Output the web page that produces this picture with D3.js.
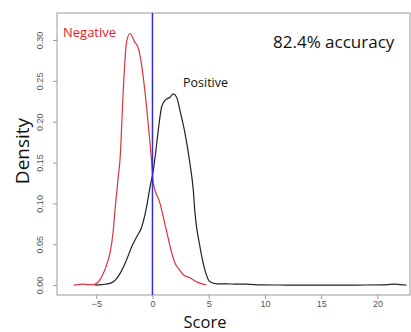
<!DOCTYPE html>
<html>
<head>
<meta charset="utf-8">
<script src="https://cdn.jsdelivr.net/npm/d3@7"></script>
<style>
  body { margin: 0; background: #fff; }
  svg { display: block; }
</style>
</head>
<body>
<div class="chart"></div>
<script>
// density curves
const negX = [-7.0, -6.6, -6.15, -5.7, -5.26, -4.8, -4.37, -4.0, -3.78, -3.5, -3.33, -3.04, -2.89, -2.6, -2.44, -2.3, -2.0, -1.6, -1.26, -0.96, -0.67, -0.37, -0.07, 0.07, 0.67, 1.1, 1.4, 1.7, 2.0, 2.44, 2.8, 3.33, 3.9, 4.4, 4.8];
const negY = [0.0, 0.0005, 0.0012, 0.0005, 0.0005, 0.004, 0.014, 0.028, 0.039, 0.065, 0.092, 0.133, 0.153, 0.237, 0.277, 0.298, 0.308, 0.298, 0.29, 0.269, 0.237, 0.196, 0.15, 0.125, 0.1, 0.075, 0.057, 0.04, 0.027, 0.018, 0.012, 0.009, 0.004, 0.0015, 0.0];
const posX = [-5.1, -4.5, -3.78, -3.3, -2.89, -2.3, -1.85, -1.4, -0.96, -0.52, -0.22, 0.07, 0.22, 0.52, 0.81, 1.11, 1.56, 1.85, 2.15, 2.44, 2.89, 3.33, 3.63, 3.78, 4.22, 4.67, 5.11, 5.7, 6.6, 7.5, 8.4, 9.6, 12, 15, 18, 20.5, 21.4, 22, 22.6];
const posY = [0, 0.0005, 0.002, 0.006, 0.014, 0.031, 0.047, 0.059, 0.071, 0.096, 0.12, 0.14, 0.155, 0.19, 0.218, 0.226, 0.23, 0.234, 0.23, 0.214, 0.186, 0.149, 0.116, 0.088, 0.047, 0.018, 0.004, 0.0015, 0.0015, 0.001, 0.001, 0.0002, 0, 0, 0, 0.0002, 0.001, 0.0006, 0];

const xTicks = [-5, 0, 5, 10, 15, 20];
const yTicks = [0, 0.05, 0.10, 0.15, 0.20, 0.25, 0.30];
const threshold = 0;

const width = 411;
const height = 332;
const box = {left: 57, right: 410, top: 13, bottom: 295};

const svg = d3.select('.chart').append('svg')
  .attr('width', width)
  .attr('height', height);

const x = d3.scaleLinear()
  .domain([-8.49, 22.9])
  .range([box.left, box.right]);

const y = d3.scaleLinear()
  .domain([-0.0122, 0.3331])
  .range([box.bottom, box.top]);

const xAxis = d3.axisBottom(x).tickValues(xTicks).tickSize(4).tickFormat(d3.format('d'));
const yAxis = d3.axisLeft(y).tickValues(yTicks).tickSize(4).tickFormat(d3.format('.2f'));

const gx = svg.append('g')
  .attr('transform', 'translate(0,' + box.bottom + ')')
  .call(xAxis);
gx.select('.domain').remove();
gx.selectAll('line').attr('stroke', '#999');
gx.selectAll('text')
  .attr('y', 12).attr('dy', 0)
  .attr('fill', '#555')
  .style('font', '9px "Liberation Sans", Arial, sans-serif');

const gy = svg.append('g')
  .attr('transform', 'translate(' + box.left + ',0)')
  .call(yAxis);
gy.select('.domain').remove();
gy.selectAll('line').attr('stroke', '#999');
gy.selectAll('text')
  .attr('x', 0).attr('dy', 0)
  .attr('transform', 'translate(-14,0) rotate(-90)')
  .attr('text-anchor', 'middle')
  .attr('fill', '#555')
  .style('font', '9px "Liberation Sans", Arial, sans-serif');

// plot frame
svg.append('rect')
  .attr('x', box.left).attr('y', box.top)
  .attr('width', box.right - box.left)
  .attr('height', box.bottom - box.top)
  .attr('fill', 'none')
  .attr('stroke', '#999')
  .attr('stroke-width', 1);

const line = d3.line()
  .x(d => x(d[0]))
  .y(d => y(d[1]))
  .curve(d3.curveMonotoneX);

svg.append('path')
  .datum(d3.zip(posX, posY))
  .attr('d', line)
  .attr('fill', 'none')
  .attr('stroke', '#222')
  .attr('stroke-width', 1.2);

svg.append('path')
  .datum(d3.zip(negX, negY))
  .attr('d', line)
  .attr('fill', 'none')
  .attr('stroke', '#d9343f')
  .attr('stroke-width', 1.2);

svg.append('line')
  .attr('x1', x(threshold)).attr('x2', x(threshold))
  .attr('y1', box.top).attr('y2', box.bottom)
  .attr('stroke', '#3030d0')
  .attr('stroke-width', 1.5);

const labelFont = '"Open Sans", "Noto Sans", sans-serif';

svg.append('text')
  .attr('x', 63).attr('y', 37)
  .attr('fill', '#e8202a')
  .style('font-family', labelFont)
  .style('font-size', '13px')
  .text('Negative');

svg.append('text')
  .attr('x', 183).attr('y', 87)
  .attr('fill', '#111')
  .style('font-family', labelFont)
  .style('font-size', '12.5px')
  .text('Positive');

svg.append('text')
  .attr('x', 273).attr('y', 48)
  .attr('fill', '#111')
  .style('font-family', labelFont)
  .style('font-size', '17px')
  .text('82.4% accuracy');

svg.append('text')
  .attr('x', 205).attr('y', 327.5)
  .attr('text-anchor', 'middle')
  .attr('fill', '#111')
  .style('font-family', labelFont)
  .style('font-size', '16.5px')
  .text('Score');

svg.append('text')
  .attr('transform', 'translate(29,151) rotate(-90)')
  .attr('text-anchor', 'middle')
  .attr('fill', '#111')
  .style('font-family', labelFont)
  .style('font-size', '19px')
  .text('Density');
</script>
</body>
</html>
